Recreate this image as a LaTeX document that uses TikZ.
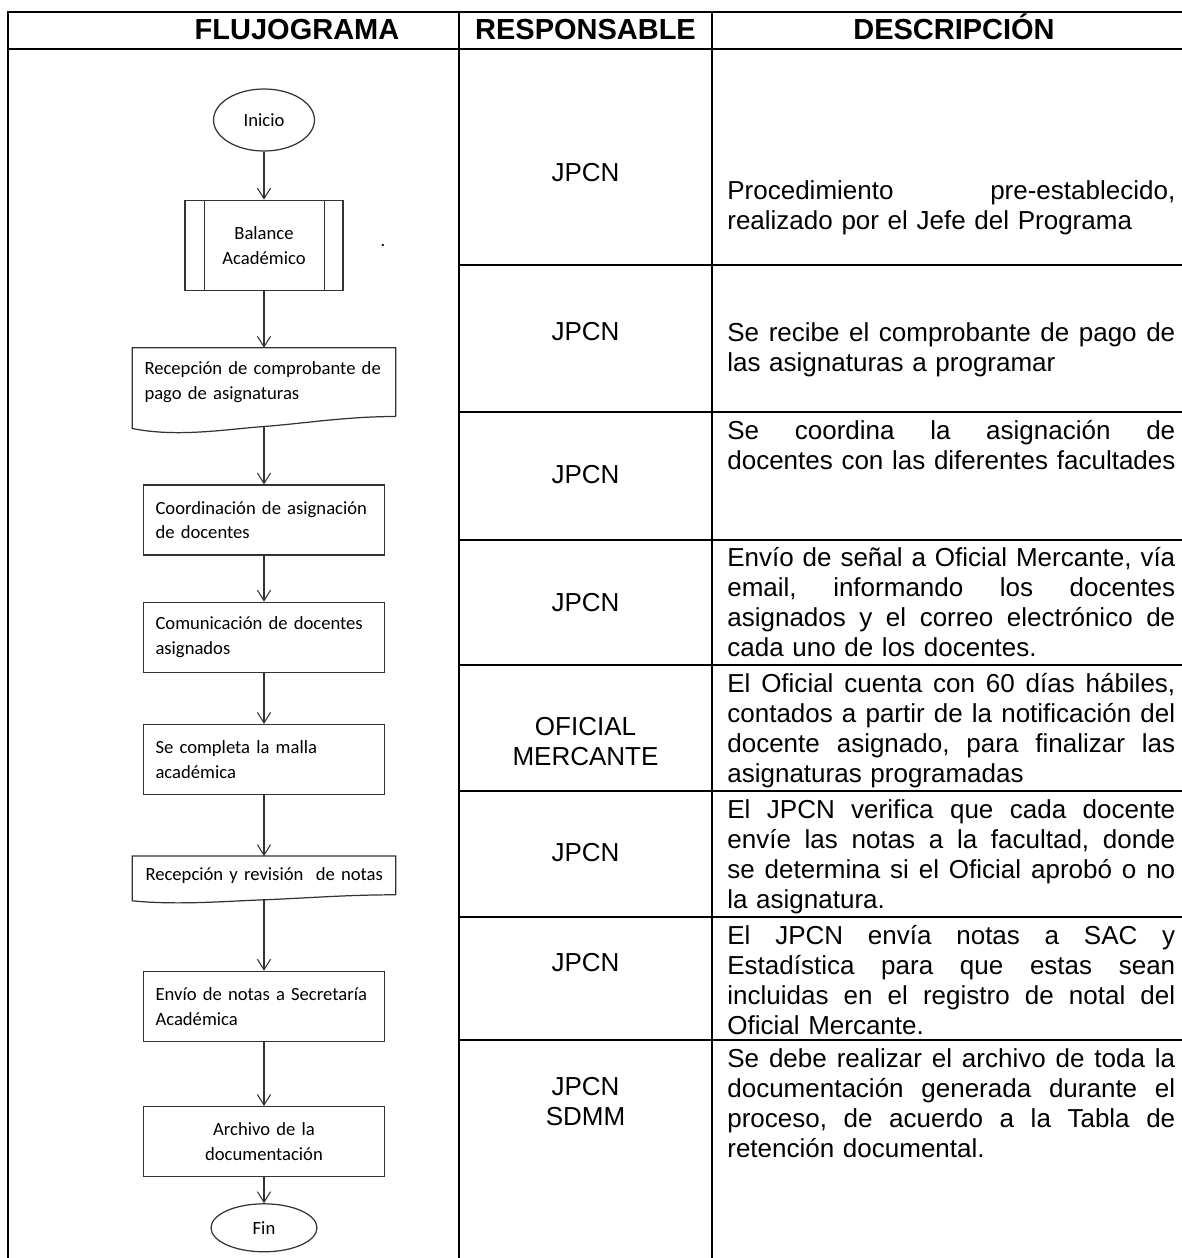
\documentclass[tikz,border=0pt]{standalone}
\usepackage{fontspec}
\setmainfont{Liberation Sans}
\newfontfamily\calibri{Carlito}
\usepackage{tikz}
\usetikzlibrary{positioning}
\usetikzlibrary{shapes.geometric}
\usetikzlibrary{arrows.meta}
\usetikzlibrary{calc}

% justified line of a description cell
\newcommand\llena[1]{\leavevmode\hbox to 8.96cm{\frenchspacing\spaceskip=0.278em plus 1fil\relax #1}\\}
% document box: outline with a wavy bottom edge
\newcommand\onda[2]{%
  \draw[caja] (#1.south east) -- (#1.north east) -- (#1.north west)
    -- ($(#1.south west)+(0,1.2*#2)$)
    .. controls +(45,0.9*#2) and +(-40,0.3*#2) .. ($(#1.south)+(0,#2)$) coordinate (#1-B)
    .. controls +(40,-0.3*#2) and +(-50,0) .. (#1.south east);}

\begin{document}
\begin{tikzpicture}[x=0.02cm,y=-0.02cm,
  caja/.style={draw=black!80, line width=0.7pt},
  letra/.style={font=\calibri\fontsize{10.6}{14.2}\selectfont},
  paso/.style={caja, letra, rectangle, minimum width=4.82cm, minimum height=1.4cm,
    inner xsep=0.24cm, inner ysep=0pt, text width=4.34cm, align=left},
  documento/.style={letra, rectangle, minimum width=5.26cm, minimum height=1.36cm,
    inner xsep=0.24cm, inner ysep=0pt, text width=4.78cm, align=left},
  terminal/.style={caja, letra, ellipse, inner sep=0pt},
  flecha/.style={draw=black!80, line width=0.6pt, -{Straight Barb[length=6pt,width=7.5pt]}},
  linea/.style={line width=1.5pt},
  cabeza/.style={font=\bfseries\fontsize{16.5}{19}\selectfont, anchor=base, inner sep=0pt},
  resp/.style={font=\fontsize{14.8}{17.1}\selectfont, align=center, inner sep=0pt},
  desc/.style={font=\fontsize{14.8}{17.1}\selectfont, text width=9.4cm, align=left,
    anchor=north west, inner sep=0pt}]

\useasboundingbox (0,0) rectangle (1182,1258);

% table grid
\draw[linea] (1190,12) -- (8,12) -- (8,1262);
\draw[linea] (8,49) -- (1190,49);
\foreach \x in {459,712}
  \draw[linea] (\x,12) -- (\x,1262);
\foreach \y in {265,412,540,665,791,917,1040}
  \draw[linea] (459,\y) -- (1190,\y);

\node[cabeza] (FLUJO) at (297,39.5) {FLUJOGRAMA};
\node[cabeza] (RESP)  at (585.5,39.5) {RESPONSABLE};
\node[cabeza] (DESC)  at (954,39.5) {DESCRIPCIÓN};

% flowchart
\node[terminal, minimum width=2.02cm, minimum height=1.24cm] (INICIO) at (264,120) {Inicio};
\node[caja, letra, minimum width=3.16cm, minimum height=1.8cm, align=center,
  inner sep=0pt] (BALANCE) [below=0.96cm of INICIO] {Balance\\Académico};
\draw[caja] ([xshift=0.4cm]BALANCE.north west) -- ([xshift=0.4cm]BALANCE.south west);
\draw[caja] ([xshift=-0.38cm]BALANCE.north east) -- ([xshift=-0.38cm]BALANCE.south east);
\node[letra, inner sep=0pt] (PUNTO) at (383,246) {.};
\node[documento] (RECEPCION) [below=1.14cm of BALANCE] {Recepción de comprobante de\\pago de asignaturas};
\onda{RECEPCION}{10}
\node[paso] (COORDINACION) [below=1.36cm of RECEPCION] {Coordinación de asignación\\de docentes};
\node[paso] (COMUNICACION) [below=0.92cm of COORDINACION] {Comunicación de docentes\\asignados};
\node[paso] (MALLA) [below=1.02cm of COMUNICACION] {Se completa la malla\\académica};
\node[documento, minimum height=0.76cm, inner xsep=0.26cm, text width=4.74cm]
  (REVISION) [below=1.22cm of MALLA] {\mbox{Recepción y revisión\ \ de notas}};
\onda{REVISION}{5}
\node[paso] (ENVIO) [below=1.52cm of REVISION] {Envío de notas a Secretaría\\Académica};
\node[paso, align=center] (ARCHIVO) [below=1.28cm of ENVIO] {Archivo de la\\documentación};
\node[terminal, minimum width=2.12cm, minimum height=0.96cm] (FIN) [below=0.52cm of ARCHIVO] {Fin};

\draw[flecha] (INICIO) -- (BALANCE);
\draw[flecha] (BALANCE) -- (RECEPCION);
\draw[flecha] (RECEPCION-B) -- (COORDINACION);
\draw[flecha] (COORDINACION) -- (COMUNICACION);
\draw[flecha] (COMUNICACION) -- (MALLA);
\draw[flecha] (MALLA) -- (REVISION);
\draw[flecha] (REVISION-B) -- (ENVIO);
\draw[flecha] (ENVIO) -- (ARCHIVO);
\draw[flecha] (ARCHIVO) -- (FIN);

% responsables
\node[resp] (R1) at (585.5,173) {JPCN};
\node[resp] (R2) at (585.5,332) {JPCN};
\node[resp] (R3) at (585.5,475) {JPCN};
\node[resp] (R4) at (585.5,603) {JPCN};
\node[resp] (R5) at (585.5,742) {OFICIAL\\MERCANTE};
\node[resp] (R6) at (585.5,853) {JPCN};
\node[resp] (R7) at (585.5,963) {JPCN};
\node[resp] (R8) at (585.5,1102) {JPCN\\SDMM};

% descripciones
\node[desc] (D1) at (727,178) {\strut\llena{Procedimiento pre-establecido,}%
realizado por el Jefe del Programa};
\node[desc] (D2) at (727,320) {\strut\llena{Se recibe el comprobante de pago de}%
las asignaturas a programar};
\node[desc] (D3) at (727,418) {\strut\llena{Se coordina la asignación de}%
docentes con las diferentes facultades};
\node[desc] (D4) at (727,545) {\strut\llena{Envío de señal a Oficial Mercante, vía}%
\llena{email, informando los docentes}%
\llena{asignados y el correo electrónico de}%
cada uno de los docentes.};
\node[desc] (D5) at (727,671) {\strut\llena{El Oficial cuenta con 60 días hábiles,}%
\llena{contados a partir de la notificación del}%
\llena{docente asignado, para finalizar las}%
asignaturas programadas};
\node[desc] (D6) at (727,797) {\strut\llena{El JPCN verifica que cada docente}%
\llena{envíe las notas a la facultad, donde}%
\llena{se determina si el Oficial aprobó o no}%
la asignatura.};
\node[desc] (D7) at (727,923) {\strut\llena{El JPCN envía notas a SAC y}%
\llena{Estadística para que estas sean}%
\llena{incluidas en el registro de notal del}%
Oficial Mercante.};
\node[desc] (D8) at (727,1046) {\strut\llena{Se debe realizar el archivo de toda la}%
\llena{documentación generada durante el}%
\llena{proceso, de acuerdo a la Tabla de}%
retención documental.};
\end{tikzpicture}
\end{document}
